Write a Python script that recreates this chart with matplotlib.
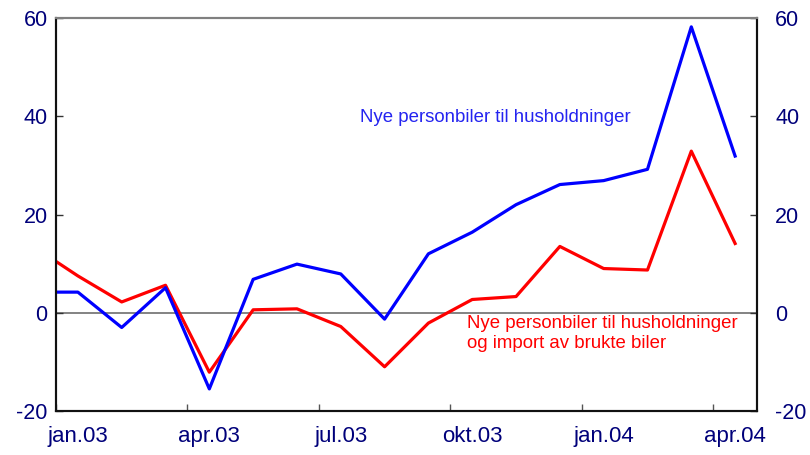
import numpy as np
import matplotlib.pyplot as plt

plt.rcParams['font.family'] = ['Liberation Sans', 'DejaVu Sans']
plt.rcParams['axes.unicode_minus'] = False

# Monthly values, dec.02 to apr.04 (dec.02 lies just outside the axis)
months = ['des.02', 'jan.03', 'feb.03', 'mar.03', 'apr.03', 'mai.03', 'jun.03',
          'jul.03', 'aug.03', 'sep.03', 'okt.03', 'nov.03', 'des.03',
          'jan.04', 'feb.04', 'mar.04', 'apr.04']
nye = [4.2, 4.2, -3.0, 5.1, -15.5, 6.8, 9.9, 7.9, -1.3, 12.0, 16.4, 22.0,
       26.1, 26.9, 29.2, 58.2, 31.9]
nye_brukte = [13.4, 7.5, 2.2, 5.6, -12.1, 0.6, 0.8, -2.8, -11.0, -2.1, 2.7,
              3.3, 13.5, 9.0, 8.7, 32.9, 14.1]

tick_labels = ['jan.03', 'apr.03', 'jul.03', 'okt.03', 'jan.04', 'apr.04']
yticks = [-20, 0, 20, 40, 60]

x = np.arange(len(months)) - 1  # jan.03 = 0
navy = '#00007a'

fig = plt.figure(figsize=(8.1, 4.55), dpi=100)
ax = fig.add_axes([0.0691, 0.0967, 0.8655, 0.8637])

ax.axhline(0, color='#6e6e6e', lw=1.2, zorder=1)
ax.plot(x, nye, color='#0000ff', lw=2.3, zorder=3, clip_on=True)
ax.plot(x, nye_brukte, color='#ff0000', lw=2.3, zorder=2, clip_on=True)

ax.set_xlim(-0.5, 15.5)
ax.set_ylim(-20, 60)

# quarter ticks at month boundaries, labels at month centres
ax.set_xticks(np.arange(-0.5, 15.5, 3), minor=False)
ax.set_xticklabels([])
ax.set_xticks(np.arange(0, 16, 3), minor=True)
ax.set_xticklabels(tick_labels, minor=True)
ax.tick_params(axis='x', which='major', direction='in', length=5, width=1, color='#555555')
ax.tick_params(axis='x', which='minor', length=0, pad=11, labelsize=16, labelcolor=navy)

ax.set_yticks(yticks)
ax.tick_params(axis='y', direction='in', length=5, width=1, pad=6, labelsize=15.5,
               labelcolor=navy, color='#333333')

ax2 = ax.twinx()
ax2.set_ylim(ax.get_ylim())
ax2.set_yticks(yticks)
ax2.tick_params(axis='y', direction='in', length=5, width=1, pad=13, labelsize=15.5,
                labelcolor=navy, color='#333333')

for a in (ax, ax2):
    a.spines['top'].set_color('#808080')
    a.spines['top'].set_linewidth(1.5)
    for s in ('left', 'right', 'bottom'):
        a.spines[s].set_color('#111111')
        a.spines[s].set_linewidth(1.5)

ax.text(6.45, 39.8, 'Nye personbiler til husholdninger', color='#2424f0',
        fontsize=13.4, va='center', ha='left')
ax.text(8.89, -4.2, 'Nye personbiler til husholdninger\nog import av brukte biler',
        color='#ff0000', fontsize=13.4, va='center', ha='left', linespacing=1.2)

fig.savefig('out.png', dpi=100)
